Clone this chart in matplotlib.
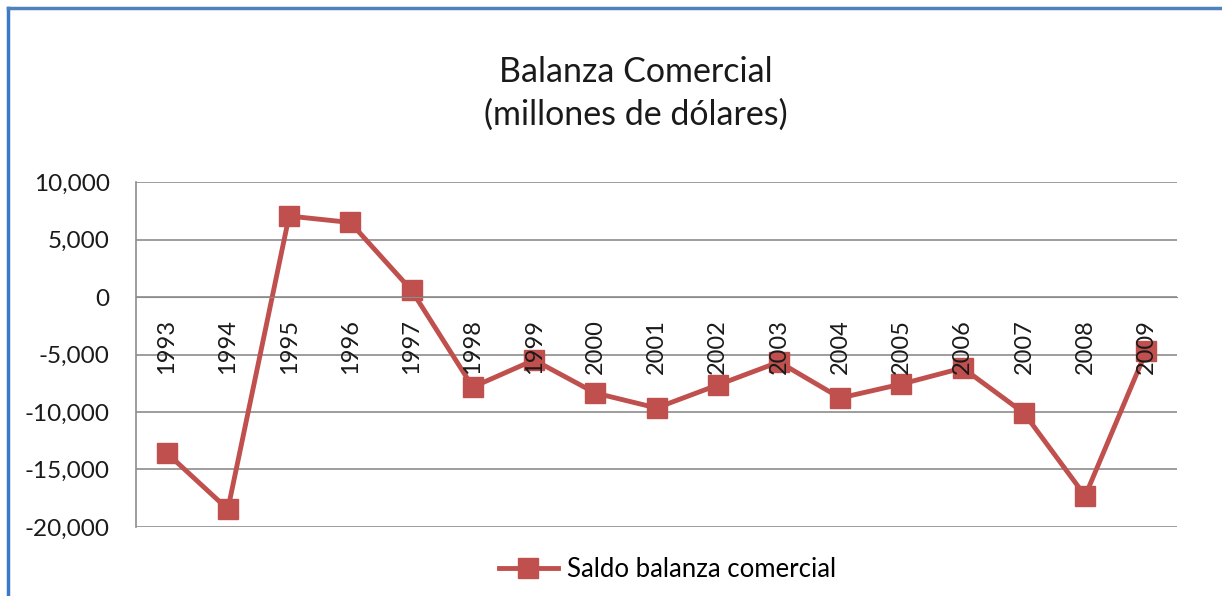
import numpy as np
import matplotlib.pyplot as plt
from matplotlib.lines import Line2D
from matplotlib.ticker import FuncFormatter

plt.rcParams['font.family'] = ['Lato', 'DejaVu Sans']

years = ['1993', '1994', '1995', '1996', '1997', '1998', '1999', '2000', '2001',
         '2002', '2003', '2004', '2005', '2006', '2007', '2008', '2009']
saldo = [-13550, -18460, 7040, 6480, 580, -7830, -5480, -8350, -9650,
         -7650, -5650, -8780, -7570, -6170, -10090, -17300, -4670]
y_ticks = [10000, 5000, 0, -5000, -10000, -15000, -20000]


def main():
    fig = plt.figure(figsize=(12.22, 5.96), dpi=100)
    ax = fig.add_axes([0.1113, 0.1158, 0.8519, 0.5788])

    # x axis crosses at 0
    ax.spines['bottom'].set_position(('data', 0))
    ax.spines['bottom'].set_color('#8c8c8c')
    for s in ['top', 'right']:
        ax.spines[s].set_visible(False)
    ax.spines['left'].set_color('#8c8c8c')
    ax.spines['left'].set_linewidth(1.2)

    x = np.arange(len(years))
    ax.plot(x, saldo, color='#C0504D', lw=3.5, marker='s', ms=14,
            label='Saldo balanza comercial', zorder=2)

    ax.set_xlim(-0.5, len(years) - 0.5)
    ax.set_ylim(-20000, 10000)
    ax.set_yticks(y_ticks)
    ax.yaxis.set_major_formatter(FuncFormatter(lambda v, p: '{:,.0f}'.format(v)))
    ax.grid(axis='y', color='#8c8c8c', lw=1.2)
    ax.set_axisbelow(True)

    # year labels hang below the 0 line and sit on top of the line/markers
    ax.set_xticks(x)
    ax.set_xticklabels([])
    ax.tick_params(axis='x', length=0)
    for xi, yr in zip(x, years):
        ax.annotate(yr, (xi, 0), xytext=(0, -16), textcoords='offset points',
                    rotation=90, ha='center', va='top', fontsize=17,
                    color='#1a1a1a', zorder=4)
    ax.tick_params(axis='y', length=0, pad=19, labelsize=17.5, colors='#1a1a1a')

    fig.text(0.52, 0.843, 'Balanza Comercial\n(millones de dólares)',
             ha='center', va='center', fontsize=24.5, color='#1a1a1a',
             linespacing=1.4)

    fig.legend(loc='center', bbox_to_anchor=(0.546, 0.045), frameon=False,
               fontsize=18.5, handlelength=2.3, handletextpad=0.35)

    # blue frame (top and left edge)
    fig.add_artist(Line2D([0.0066, 0.0066], [0, 0.987], transform=fig.transFigure,
                          color='#3b78c7', lw=2.5))
    fig.add_artist(Line2D([0.0066, 1], [0.987, 0.987], transform=fig.transFigure,
                          color='#4f81bd', lw=2.5))

    fig.savefig('out.png', dpi=100)


if __name__ == '__main__':
    main()
